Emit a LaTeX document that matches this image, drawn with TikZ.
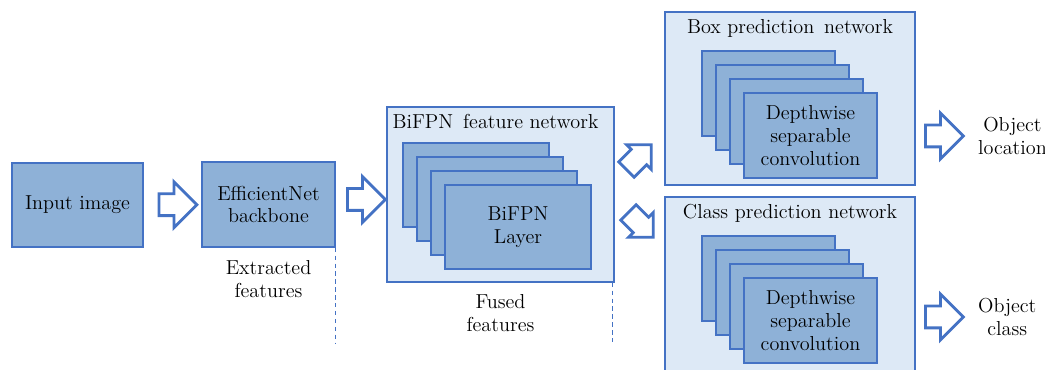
\documentclass[tikz,border=0pt]{standalone}
\usepackage{tikz}
\usetikzlibrary{positioning, calc, shapes.arrows}
\definecolor{boxblue}{RGB}{142, 177, 215}
\definecolor{edgeblue}{RGB}{68, 114, 196}
\definecolor{panelbg}{RGB}{221, 233, 246}

\begin{document}
\begin{tikzpicture}[
          blk/.style={rectangle, fill=boxblue, draw=edgeblue,
                      line width=0.8pt, align=center,
                      font=\fontsize{11.5}{13}\selectfont},
          panel/.style={rectangle, fill=panelbg, draw=edgeblue,
                        line width=0.8pt},
          lab/.style={align=center, font=\fontsize{11.5}{13}\selectfont},
          barrow/.style={single arrow, draw=edgeblue, fill=white,
                         line width=1.6pt, inner xsep=0pt,
                         inner ysep=0.19cm, minimum height=0.76cm,
                         single arrow head extend=0.24cm,
                         single arrow tip angle=90},
          darrow/.style={barrow, minimum height=0.70cm,
                         single arrow head extend=0.13cm},
          guide/.style={draw=edgeblue, line width=0.6pt,
                        dash pattern=on 2.5pt off 2pt},
      ]
      \clip (0, 0) rectangle (20.9, 7.4);

      % Backbone
      \node[blk, minimum width=2.62cm, minimum height=1.68cm] (inp)
          at (1.55, 3.30) {Input image};
      \node[blk, minimum width=2.66cm, minimum height=1.70cm] (eff)
          at (5.37, 3.31) {EfficientNet\\backbone};
      \node[lab, below=4pt of eff] (extr) {Extracted\\features};
      \coordinate (g1) at ($(eff.south east)+(0, -1.9)$);
      \draw[guide] (eff.south east) -- (g1);

      % BiFPN feature network
      \node[panel, minimum width=4.54cm, minimum height=3.50cm] (bif)
          at (10.01, 3.51) {};
      \node[lab, below=1pt of bif.north, xshift=-0.1cm] (biftitle)
          {BiFPN\, feature network};
      \node[blk, minimum width=2.92cm, minimum height=1.68cm] (lay1)
          at (9.52, 3.70) {};
      \node[blk, minimum width=2.92cm, minimum height=1.68cm] (lay2)
          at (9.80, 3.42) {};
      \node[blk, minimum width=2.92cm, minimum height=1.68cm] (lay3)
          at (10.08, 3.14) {};
      \node[blk, minimum width=2.92cm, minimum height=1.68cm] (lay4)
          at (10.36, 2.86) {BiFPN\\Layer};
      \node[lab, below=3pt of bif] (fused) {Fused\\features};
      \coordinate (g2) at ($(bif.south east)+(-0.04, -1.26)$);
      \draw[guide] ($(bif.south east)+(-0.04, 0)$) -- (g2);

      % Box prediction network
      \node[panel, minimum width=5.00cm, minimum height=3.46cm] (boxnet)
          at (15.80, 5.43) {};
      \node[lab, below=1pt of boxnet.north] (boxtitle)
          {Box prediction\, network};
      \node[blk, minimum width=2.66cm, minimum height=1.70cm] (box1)
          at (15.37, 5.53) {};
      \node[blk, minimum width=2.66cm, minimum height=1.70cm] (box2)
          at (15.65, 5.25) {};
      \node[blk, minimum width=2.66cm, minimum height=1.70cm] (box3)
          at (15.93, 4.97) {};
      \node[blk, minimum width=2.66cm, minimum height=1.70cm] (box4)
          at (16.21, 4.69) {Depthwise\\separable\\convolution};

      % Class prediction network
      \node[panel, minimum width=5.00cm, minimum height=3.62cm] (clsnet)
          at (15.80, 1.65) {};
      \node[lab, below=1pt of clsnet.north] (clstitle)
          {Class prediction network};
      \node[blk, minimum width=2.66cm, minimum height=1.70cm] (cls1)
          at (15.37, 1.83) {};
      \node[blk, minimum width=2.66cm, minimum height=1.70cm] (cls2)
          at (15.65, 1.55) {};
      \node[blk, minimum width=2.66cm, minimum height=1.70cm] (cls3)
          at (15.93, 1.27) {};
      \node[blk, minimum width=2.66cm, minimum height=1.70cm] (cls4)
          at (16.21, 0.99) {Depthwise\\separable\\convolution};

      % Block arrows
      \node[barrow] (a1) at ($(inp.east)!0.5!(eff.west)$) {};
      \node[barrow] (a2) at ($(eff.east)!0.5!(bif.west)$) {};
      \node[darrow, rotate=45] (a3) at (12.70, 4.18) {};
      \node[darrow, rotate=-45] (a4) at (12.74, 2.98) {};
      \node[barrow] (a5) at (18.78, 4.68) {};
      \node[barrow] (a6) at (18.78, 1.06) {};

      % Outputs
      \node[lab, inner xsep=0pt, right=7pt of a5] (loc)
          {Object\\location};
      \node[lab, inner xsep=0pt, right=7pt of a6] (cls)
          {Object\\class};
      \end{tikzpicture}
\end{document}
